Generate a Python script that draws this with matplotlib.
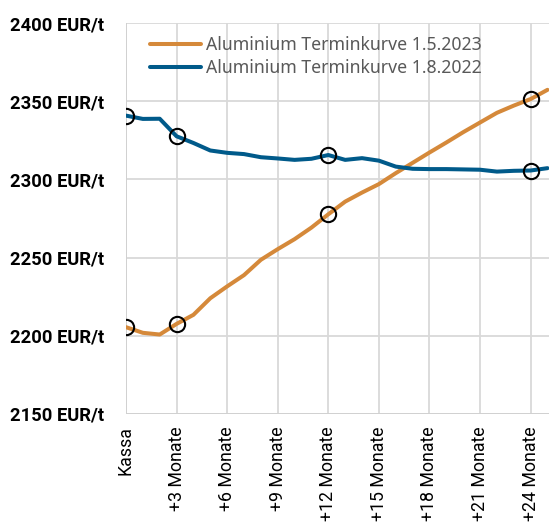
import matplotlib
matplotlib.use("Agg")
import matplotlib.pyplot as plt
import numpy as np

months = list(range(26))
tick_positions = [0, 3, 6, 9, 12, 15, 18, 21, 24]
tick_labels = ["Kassa", "+3 Monate", "+6 Monate", "+9 Monate", "+12 Monate",
               "+15 Monate", "+18 Monate", "+21 Monate", "+24 Monate"]
y_ticks = [2150, 2200, 2250, 2300, 2350, 2400]
y_labels = ["2150 EUR/t", "2200 EUR/t", "2250 EUR/t", "2300 EUR/t", "2350 EUR/t", "2400 EUR/t"]

curve_2023 = [2205.5, 2201.9, 2200.8, 2207.6, 2213.4, 2224.0, 2231.6, 2238.8, 2248.6,
              2255.4, 2261.8, 2269.2, 2277.7, 2285.8, 2291.6, 2297.0, 2304.0, 2310.6,
              2317.2, 2323.6, 2330.2, 2336.4, 2342.6, 2347.2, 2351.4, 2357.3]
curve_2022 = [2340.8, 2338.7, 2338.8, 2327.6, 2323.3, 2318.5, 2317.0, 2316.2, 2314.2,
              2313.4, 2312.5, 2313.2, 2315.6, 2312.5, 2313.6, 2312.0, 2308.2, 2306.8,
              2306.6, 2306.6, 2306.4, 2306.2, 2305.0, 2305.5, 2305.7, 2307.2]
marker_months = [0, 3, 12, 24]

orange = "#D5893A"
blue = "#005A8A"

fig = plt.figure(figsize=(5.49, 5.24), dpi=100)
ax = fig.add_axes([0.2295, 0.21, 0.7705, 0.746])

ax.plot(months, curve_2023, color=orange, lw=2.9, solid_capstyle="round",
        label="Aluminium Terminkurve 1.5.2023", zorder=3)
ax.plot(months, curve_2022, color=blue, lw=2.9, solid_capstyle="round",
        label="Aluminium Terminkurve 1.8.2022", zorder=3)

for series in (curve_2023, curve_2022):
    ax.plot(marker_months, [series[m] for m in marker_months], linestyle="none",
            marker="o", markersize=11, markerfacecolor="none",
            markeredgecolor="black", markeredgewidth=1.5, zorder=4)

ax.set_xlim(0, 25.09)
ax.set_ylim(2150, 2400)
ax.set_xticks(tick_positions)
ax.set_xticklabels(tick_labels, rotation=90, fontsize=12.8, family="Roboto")
ax.set_yticks(y_ticks)
ax.set_yticklabels(y_labels, fontsize=13.2, fontweight="bold", family="Roboto")
ax.tick_params(length=0)
ax.tick_params(axis="x", pad=9)
ax.tick_params(axis="y", pad=16)

ax.grid(True, color="#D9D9D9", lw=1.3)
ax.set_axisbelow(True)
for s in ax.spines.values():
    s.set_visible(False)
ax.axhline(2150, color="#D0D0D0", lw=1.3, zorder=1)
ax.axvline(0, color="#D0D0D0", lw=1.3, zorder=1)

leg = ax.legend(loc="upper left", bbox_to_anchor=(0.057, 0.967), frameon=False,
                prop={"family": "Noto Sans", "size": 12.7}, handlelength=2.9,
                handletextpad=0.25, labelspacing=0.3, borderaxespad=0, borderpad=0)
for t in leg.get_texts():
    t.set_color("#595959")

fig.savefig("out.png", dpi=100)
